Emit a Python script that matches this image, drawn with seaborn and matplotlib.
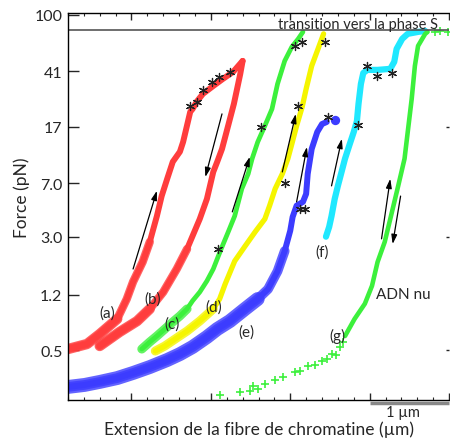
import matplotlib
matplotlib.use("Agg")
import matplotlib.pyplot as plt
import matplotlib.ticker as mticker
import matplotlib.transforms as mtrans
import seaborn as sns

# Courbes force-extension (extension en µm, force en pN)
a_x = [0, 0.24, 0.40, 0.62, 0.74, 0.82, 0.94, 1.03, 1.12, 1.18, 1.25, 1.32, 1.41, 1.45,
       1.48, 1.51, 1.54, 1.57, 1.62, 1.70, 1.83, 1.95, 2.08, 2.20]
a_f = [0.508, 0.55, 0.644, 0.817, 1.12, 1.47, 2.01, 2.76, 4.16, 5.7, 7.5, 9.8, 11.5, 13.4,
       15.7, 18.4, 21.6, 22.6, 25.3, 28.7, 32.5, 36.3, 40.6, 48.3]

b_x = [2.20, 2.17, 2.13, 2.09, 2.04, 1.99, 1.94, 1.88, 1.83, 1.75, 1.66, 1.50, 1.37, 1.20,
       1.03, 0.87, 0.65, 0.40]
b_f = [48.3, 39.3, 31.0, 24.5, 19.3, 15.2, 12.0, 9.8, 8.35, 5.45, 3.97, 2.47, 1.80, 1.25,
       0.957, 0.79, 0.665, 0.533]

c_x = [0.93, 1.03, 1.12, 1.22, 1.32, 1.41, 1.50, 1.57, 1.66, 1.75, 1.83, 1.89, 1.94, 2.02,
       2.10, 2.19, 2.27, 2.32, 2.39, 2.48, 2.57, 2.64, 2.73, 2.82, 2.90, 2.96]
c_f = [0.508, 0.568, 0.624, 0.697, 0.779, 0.857, 0.957, 1.09, 1.25, 1.49, 1.80, 2.18, 2.55,
       3.25, 4.16, 6.4, 8.1, 10.3, 13.4, 17.3, 22.6, 33.6, 48.3, 60.3, 68.4, 76.4]

d_x = [1.10, 1.22, 1.35, 1.50, 1.66, 1.83, 1.91, 1.98, 2.10, 2.23, 2.36, 2.48, 2.54, 2.61,
       2.70, 2.77, 2.82, 2.88, 2.95, 3.00, 3.07, 3.15, 3.22]
d_f = [0.492, 0.533, 0.595, 0.675, 0.791, 0.957, 1.12, 1.42, 2.04, 2.58, 3.25, 3.97, 4.9,
       6.4, 8.1, 10.3, 13.0, 17.3, 23.3, 31.0, 44.6, 58.4, 74.1]

e_x = [0, 0.21, 0.40, 0.62, 0.82, 1.03, 1.25, 1.41, 1.57, 1.75, 1.88, 2.04, 2.23, 2.39,
       2.52, 2.64, 2.73, 2.80, 2.83, 2.88, 2.96, 3.00, 3.02, 3.07, 3.14, 3.20, 3.26]
e_f = [0.279, 0.288, 0.302, 0.321, 0.348, 0.382, 0.427, 0.469, 0.525, 0.614, 0.697, 0.791,
       0.957, 1.12, 1.31, 1.74, 2.39, 3.3, 4.1, 4.9, 5.2, 5.9, 8.1, 12.0, 15.7, 17.8, 18.4]
e_blob_x = [3.36]
e_blob_f = [19.0]

f_x = [3.25, 3.29, 3.32, 3.36, 3.40, 3.45, 3.49, 3.55, 3.60, 3.64, 3.66, 3.69, 3.72, 3.77,
       3.90, 4.06, 4.11, 4.14, 4.21, 4.28, 4.41, 4.50]
f_f = [3.0, 3.5, 4.16, 5.45, 6.7, 8.5, 10.3, 13.0, 15.7, 18.7, 24.5, 33.6, 39.9, 41.9,
       41.9, 42.6, 47.6, 58.4, 68.4, 74.1, 76.4, 77.6]

g_x = [3.49, 3.61, 3.74, 3.83, 3.90, 3.99, 4.06, 4.16, 4.24, 4.28, 4.33, 4.37, 4.41, 4.50, 4.53]
g_f = [0.624, 0.817, 1.04, 1.38, 2.01, 2.76, 3.97, 6.7, 10.3, 15.7, 26.5, 44.6, 61.2, 74.1, 76.4]
gp_x = [1.91, 2.17, 2.29, 2.33, 2.39, 2.48, 2.61, 2.71, 2.86, 2.92, 3.02, 3.11, 3.20, 3.26,
        3.32, 3.38, 3.43, 3.46, 4.62, 4.69, 4.79]
gp_f = [0.246, 0.257, 0.262, 0.283, 0.270, 0.292, 0.311, 0.326, 0.353, 0.359, 0.388, 0.394,
        0.42, 0.434, 0.469, 0.462, 0.525, 0.568, 76.4, 77.6, 76.4]

# astérisques (événements)
ast_x = [1.54, 1.62, 1.70, 1.81, 1.90, 2.04, 1.89, 2.43, 2.86, 2.95, 2.73, 2.90, 3.24,
         2.92, 2.98, 3.27, 3.65, 3.77, 3.89, 4.08]
ast_f = [23.7, 25.3, 30.5, 34.7, 37.5, 40.6, 2.47, 17.0, 61.2, 65.3, 7.0, 23.7, 65.3,
         4.65, 4.65, 19.9, 17.6, 44.6, 38.1, 39.9]

# flèches (début -> fin)
arr_x0 = [0.82, 1.94, 2.07, 2.70, 2.88, 3.32, 3.95, 4.19]
arr_f0 = [1.80, 20.9, 4.44, 8.35, 5.2, 6.7, 2.9, 5.7]
arr_x1 = [1.12, 1.73, 2.29, 2.87, 3.01, 3.45, 4.06, 4.09]
arr_f1 = [6.2, 7.7, 10.6, 20.9, 12.4, 14.1, 7.5, 2.67]

labels = ["(a)", "(b)", "(c)", "(d)", "(e)", "(f)", "(g)", "ADN nu"]
label_x = [0.50, 1.07, 1.31, 1.83, 2.25, 3.20, 3.40, 4.22]
label_f = [0.91, 1.12, 0.754, 1.0, 0.675, 2.36, 0.634, 1.21]

y_ticks = [0.5, 1.2, 3.0, 7.0, 17, 41, 100]
y_ticklabels = ["0.5", "1.2", "3.0", "7.0", "17", "41", "100"]
s_transition = 78.9

RED = "#ff3d3d"
GREEN = "#3cf03c"
YELLOW = "#f5f500"
BLUE = "#3c3cff"
CYAN = "#20e8ff"

sns.set_style("ticks")
plt.rcParams["font.family"] = ["Lato", "DejaVu Sans"]

fig = plt.figure(figsize=(4.5, 4.39), dpi=100)
ax = fig.add_axes([0.1511, 0.0866, 0.8467, 0.8815])
ax.set_yscale("log")


def trace(x, f, color, widths):
    # bandes plus larges aux faibles forces (bruit), du plus large au plus fin
    for fmax, lw in widths:
        sx = [xi for xi, fi in zip(x, f) if fi <= fmax]
        sf = [fi for fi in f if fi <= fmax]
        alpha = 1.0 if fmax > 1000 else 0.8
        sns.lineplot(x=sx, y=sf, sort=False, estimator=None, color=color, lw=lw,
                     alpha=alpha, ax=ax, solid_capstyle="round")


INF = 1e6
trace(e_x, e_f, BLUE, [(1.3, 10), (3.0, 7), (INF, 4.3)])
trace(d_x, d_f, YELLOW, [(1.0, 6.5), (INF, 3.8)])
trace(c_x, c_f, GREEN, [(1.0, 6.5), (INF, 3.4)])
trace(a_x, a_f, RED, [(1.0, 7.5), (3.0, 6), (INF, 4.3)])
trace(b_x, b_f, RED, [(1.0, 7.5), (3.0, 6), (INF, 4.3)])
trace(f_x, f_f, CYAN, [(INF, 4.5)])
trace(g_x, g_f, GREEN, [(INF, 3.3)])
sns.scatterplot(x=gp_x, y=gp_f, marker="+", s=30, color=GREEN, linewidth=1.2, ax=ax)
sns.scatterplot(x=e_blob_x, y=e_blob_f, marker="o", s=45, color=BLUE, linewidth=0, ax=ax)

sns.scatterplot(x=ast_x, y=ast_f, marker=(6, 2, 0), s=34, color="#222222",
                linewidth=0.9, ax=ax, zorder=5)

for x0, f0, x1, f1 in zip(arr_x0, arr_f0, arr_x1, arr_f1):
    ax.annotate("", xy=(x1, f1), xytext=(x0, f0),
                arrowprops=dict(arrowstyle="-|>,head_length=0.55,head_width=0.17",
                                color="black", lw=0.9, shrinkA=0, shrinkB=0))

for t, x, f in zip(labels, label_x, label_f):
    ax.text(x, f, t, ha="center", va="center", fontsize=11)

# seuil de transition
ax.axhline(s_transition, color="#555555", lw=1.2)
ax.text(4.66, s_transition * 1.035, "transition vers la phase S", ha="right",
        va="baseline", fontsize=10.5)

ax.set_xlim(0, 4.8)
ax.set_ylim(0.227, 103)
ax.set_yticks(y_ticks)
ax.set_yticklabels(y_ticklabels)
ax.yaxis.set_minor_locator(mticker.NullLocator())
ax.set_xticks([0.8, 1.8, 2.8, 3.8, 4.8])
ax.set_xticklabels([])
ax.xaxis.set_minor_locator(mticker.MultipleLocator(0.2))
ax.tick_params(axis="y", direction="in", length=8, width=1, labelsize=11.5, pad=4)
ax.tick_params(axis="x", which="major", direction="in", length=5, width=1,
               top=True, bottom=True)
ax.tick_params(axis="x", which="minor", direction="in", length=2.5, width=0.8,
               top=True, bottom=True)
for side in ["left", "bottom", "top"]:
    ax.spines[side].set_linewidth(1.0)
    ax.spines[side].set_color("black")
ax.spines["right"].set_visible(False)

ax2 = ax.twinx()
ax2.set_yscale("log")
ax2.set_ylim(0.227, 103)
ax2.set_yticks([0.5, 3.0, 17])
ax2.set_yticklabels([])
ax2.yaxis.set_minor_locator(mticker.NullLocator())
ax2.tick_params(axis="y", direction="in", length=2.5, width=1)
for side in ["left", "bottom", "top", "right"]:
    ax2.spines[side].set_visible(False)

ax.set_xlabel("Extension de la fibre de chromatine (µm)", fontsize=12.5)
ax.xaxis.set_label_coords(0.5, -0.052)
ax.set_ylabel("Force (pN)", fontsize=12.5)
ax.yaxis.set_label_coords(-0.121, 0.525)
ax.yaxis.label.set_va("center")

# barre d'échelle 1 µm
tr = mtrans.blended_transform_factory(ax.transData, ax.transAxes)
ax.plot([3.8, 4.8], [-0.009, -0.009], color="#888888", lw=2.5, transform=tr,
        clip_on=False, solid_capstyle="butt")
ax.text(4.22, -0.031, "1 µm", ha="center", va="center", fontsize=10.5, transform=tr)

fig.savefig("out.png", dpi=100)
